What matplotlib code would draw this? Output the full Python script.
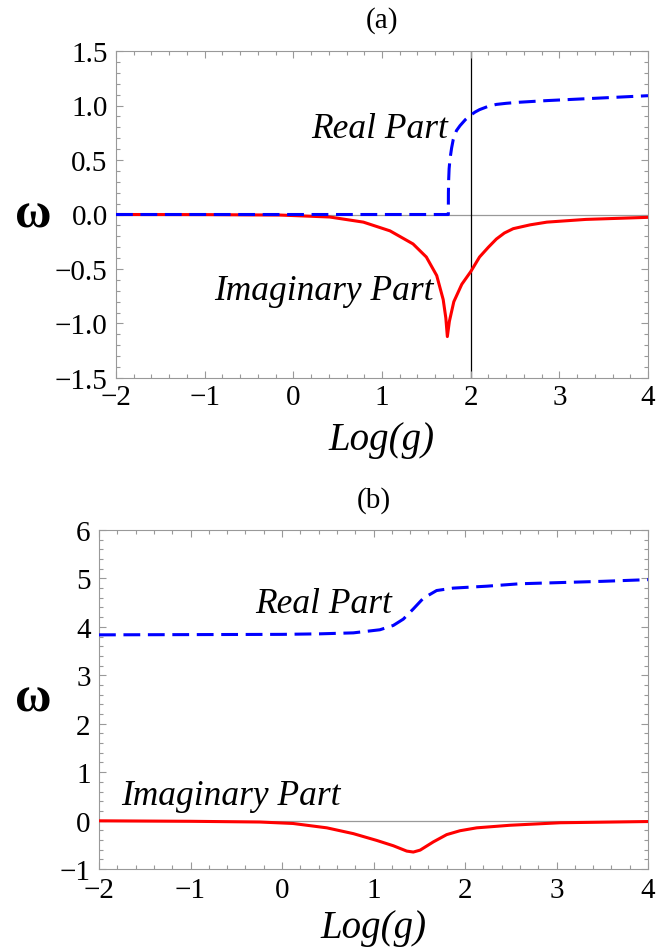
import numpy as np
import matplotlib.pyplot as plt
from matplotlib.ticker import MultipleLocator

plt.rcParams['font.family'] = ['Liberation Serif', 'DejaVu Serif']

# panel (a)
xa_re = [-2.0, -1.0, 0.0, 1.0, 1.748, 1.749, 1.752, 1.757, 1.767, 1.785, 1.804, 1.84,
         1.88, 1.94, 1.99, 2.05, 2.1, 2.2, 2.29, 2.4, 2.55, 2.86, 3.5, 4.0]
ya_re = [0.0, 0.0, 0.0, 0.0, 0.0, 0.2, 0.32, 0.42, 0.51, 0.61, 0.69, 0.77,
         0.815, 0.87, 0.906, 0.94, 0.962, 0.993, 1.01, 1.02, 1.03, 1.045, 1.07, 1.09]
xa_im = [-2.0, -1.0, -0.15, 0.41, 0.79, 1.09, 1.35, 1.5, 1.617, 1.69, 1.72, 1.737,
         1.76, 1.81, 1.9, 2.0, 2.1, 2.2, 2.29, 2.38, 2.48, 2.67, 2.86, 3.3, 4.0]
ya_im = [0.0, -0.001, -0.005, -0.023, -0.07, -0.15, -0.27, -0.39, -0.56, -0.78, -0.95, -1.12,
         -0.98, -0.8, -0.64, -0.525, -0.39, -0.3, -0.225, -0.17, -0.13, -0.095, -0.07, -0.045, -0.026]

# panel (b)
xb_re = [-2.0, -1.0, 0.0, 0.415, 0.78, 1.07, 1.217, 1.326, 1.435, 1.544, 1.69, 1.87,
         2.24, 2.6, 2.96, 3.5, 4.0]
yb_re = [3.835, 3.84, 3.845, 3.856, 3.876, 3.94, 4.03, 4.16, 4.37, 4.59, 4.75, 4.8,
         4.84, 4.89, 4.91, 4.94, 4.975]
xb_im = [-2.0, -1.0, -0.24, 0.12, 0.49, 0.78, 1.035, 1.217, 1.363, 1.435, 1.51, 1.654,
         1.8, 1.945, 2.128, 2.49, 3.04, 4.0]
yb_im = [-0.005, -0.015, -0.03, -0.06, -0.15, -0.27, -0.41, -0.52, -0.63, -0.65, -0.61, -0.44,
         -0.29, -0.21, -0.15, -0.097, -0.045, -0.02]

xticks = [-2, -1, 0, 1, 2, 3, 4]
xtick_labels = ['\u22122', '\u22121', '0', '1', '2', '3', '4']
ya_ticks = [-1.5, -1.0, -0.5, 0.0, 0.5, 1.0, 1.5]
ya_labels = ['\u22121.5', '\u22121.0', '\u22120.5', '0.0', '0.5', '1.0', '1.5']
yb_ticks = [-1, 0, 1, 2, 3, 4, 5, 6]
yb_labels = ['\u22121', '0', '1', '2', '3', '4', '5', '6']

W, H = 666, 953
fig = plt.figure(figsize=(W / 100, H / 100), dpi=100)
ax1 = fig.add_axes([116 / W, 1 - 379 / H, 532 / W, 327 / H])
ax2 = fig.add_axes([99 / W, 1 - 870 / H, 549 / W, 339 / H])

frame = '#999999'
for ax in (ax1, ax2):
    ax.axhline(0, color='#999999', lw=0.9, zorder=1)
    ax.set_xlim(-2, 4)
    ax.set_xticks(xticks)
    ax.set_xticklabels(xtick_labels)
    ax.xaxis.set_minor_locator(MultipleLocator(0.2))
    ax.tick_params(which='both', direction='in', top=True, right=True,
                   color=frame, width=0.8, labelsize=21)
    ax.tick_params(which='major', length=5)
    ax.tick_params(which='minor', length=3)
    ax.tick_params(axis='x', pad=4.5)
    for s in ax.spines.values():
        s.set_color(frame)
        s.set_linewidth(0.8)

ax1.axvline(2, color='black', lw=0.9, zorder=1)
ax1.plot(xa_im, ya_im, color='#ff0000', lw=2.2, zorder=3)
ax1.plot(xa_re, ya_re, color='#0000ff', lw=2.2, dashes=(5.5, 2.5), zorder=4)
ax1.set_ylim(-1.5, 1.5)
ax1.set_yticks(ya_ticks)
ax1.set_yticklabels(ya_labels)
ax1.yaxis.set_minor_locator(MultipleLocator(0.1))
ax1.tick_params(axis='y', pad=6)
ax1.text(1.74, 0.71, 'Real Part', style='italic', fontsize=25.5, ha='right', va='baseline')
ax1.text(1.58, -0.775, 'Imaginary Part', style='italic', fontsize=25.5, ha='right', va='baseline')

ax2.plot(xb_im, yb_im, color='#ff0000', lw=2.2, zorder=3)
ax2.plot(xb_re, yb_re, color='#0000ff', lw=2.2, dashes=(5.5, 2.5), zorder=4)
ax2.set_ylim(-1, 6)
ax2.set_yticks(yb_ticks)
ax2.set_yticklabels(yb_labels)
ax2.yaxis.set_minor_locator(MultipleLocator(0.2))
ax2.tick_params(axis='y', pad=6)
ax2.tick_params(axis='x', pad=6)
ax2.text(1.2, 4.3, 'Real Part', style='italic', fontsize=25.5, ha='right', va='baseline')
ax2.text(0.64, 0.35, 'Imaginary Part', style='italic', fontsize=25.5, ha='right', va='baseline')

fig.text(382 / W, 1 - 21 / H, '(a)', fontsize=21, ha='center', va='center')
fig.text(373.5 / W, 1 - 501 / H, '(b)', fontsize=21, ha='center', va='center')
fig.text(33 / W, 1 - 215.5 / H, '\u03c9', fontsize=36, fontweight='bold', ha='center', va='center')
fig.text(33 / W, 1 - 700 / H, '\u03c9', fontsize=36, fontweight='bold', ha='center', va='center')
fig.text(382 / W, 1 - 441 / H, 'Log(g)', fontsize=28, style='italic', ha='center', va='center')
fig.text(373.5 / W, 1 - 929 / H, 'Log(g)', fontsize=28, style='italic', ha='center', va='center')

fig.savefig('out.png', dpi=100)
